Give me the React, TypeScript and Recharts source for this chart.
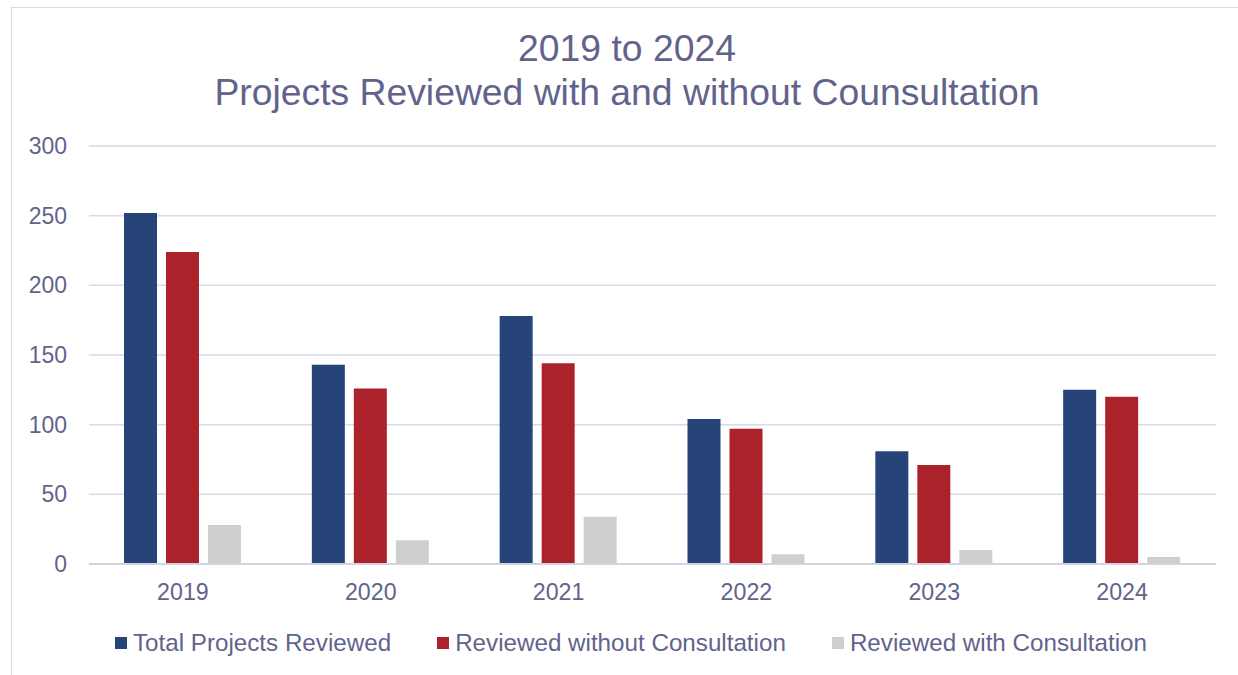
import { Bar, BarChart, CartesianGrid, Legend, XAxis, YAxis } from "recharts";

const years = ["2019", "2020", "2021", "2022", "2023", "2024"];
const totalReviewed = [252, 143, 178, 104, 81, 125];
const withoutConsultation = [224, 126, 144, 97, 71, 120];
const withConsultation = [28, 17, 34, 7, 10, 5];
const yTicks = [0, 50, 100, 150, 200, 250, 300];

const seriesKeys = ["total", "without", "with"];
const seriesNames = ["Total Projects Reviewed", "Reviewed without Consultation", "Reviewed with Consultation"];
const seriesColors = ["#264478", "#AB222B", "#D0CECE"];

const chartData = years.map((year, i) => ({
  year,
  total: totalReviewed[i],
  without: withoutConsultation[i],
  with: withConsultation[i],
}));

const font = '"Liberation Sans", Arial, sans-serif';
const textColor = "#62638C";

function LegendRow({ payload }: { payload?: any[] }) {
  // keep series order (recharts sorts legend items by default)
  const items = seriesNames.map((name) => (payload ?? []).find((p) => p.value === name)).filter(Boolean);
  return (
    <div style={{ display: "flex", justifyContent: "center", gap: 46, fontFamily: font }}>
      {items.map((item: any) => (
        <div key={item.value} style={{ display: "flex", alignItems: "center", gap: 6 }}>
          <span style={{ width: 12, height: 12, background: item.color, display: "inline-block" }} />
          <span style={{ fontSize: 24.2, color: textColor }}>{item.value}</span>
        </div>
      ))}
    </div>
  );
}

export default function App() {
  return (
    <div
      style={{
        position: "absolute",
        left: 0,
        top: 0,
        width: 1238,
        height: 675,
        background: "#fff",
        overflow: "hidden",
        fontFamily: font,
      }}
    >
      <div
        style={{
          position: "absolute",
          left: 11,
          top: 7,
          width: 1300,
          height: 700,
          border: "1px solid #D9D9E6",
        }}
      />
      <div
        style={{
          position: "absolute",
          left: 11,
          top: 26,
          width: 1232,
          textAlign: "center",
          color: textColor,
          fontSize: 37.3,
          lineHeight: "44px",
        }}
      >
        <div>2019 to 2024</div>
        <div>Projects Reviewed with and without Counsultation</div>
      </div>
      <div style={{ position: "absolute", left: 0, top: 0 }}>
        <BarChart
          width={1238}
          height={675}
          data={chartData}
          margin={{ top: 146, right: 22, left: 0, bottom: 71 }}
          barSize={33}
          barGap={9}
        >
          <CartesianGrid vertical={false} stroke="#D9D9E8" strokeWidth={1.5} />
          <XAxis
            dataKey="year"
            height={40}
            tickLine={false}
            tickSize={0}
            tickMargin={20}
            axisLine={{ stroke: "#D3D2E3", strokeWidth: 2 }}
            tick={{ fill: textColor, fontSize: 23.2, fontFamily: font }}
          />
          <YAxis
            width={89}
            domain={[0, 300]}
            ticks={yTicks}
            axisLine={false}
            tickLine={false}
            tickSize={0}
            tickMargin={22}
            tick={{ fill: textColor, fontSize: 23, fontFamily: font }}
          />
          <Legend
            layout="horizontal"
            verticalAlign="middle"
            align="center"
            wrapperStyle={{ top: 629, left: 12, width: 1238 }}
            content={(props: any) => <LegendRow payload={props.payload} />}
          />
          {seriesKeys.map((key, i) => (
            <Bar
              key={key}
              dataKey={key}
              name={seriesNames[i]}
              fill={seriesColors[i]}
              isAnimationActive={false}
            />
          ))}
        </BarChart>
      </div>
    </div>
  );
}
